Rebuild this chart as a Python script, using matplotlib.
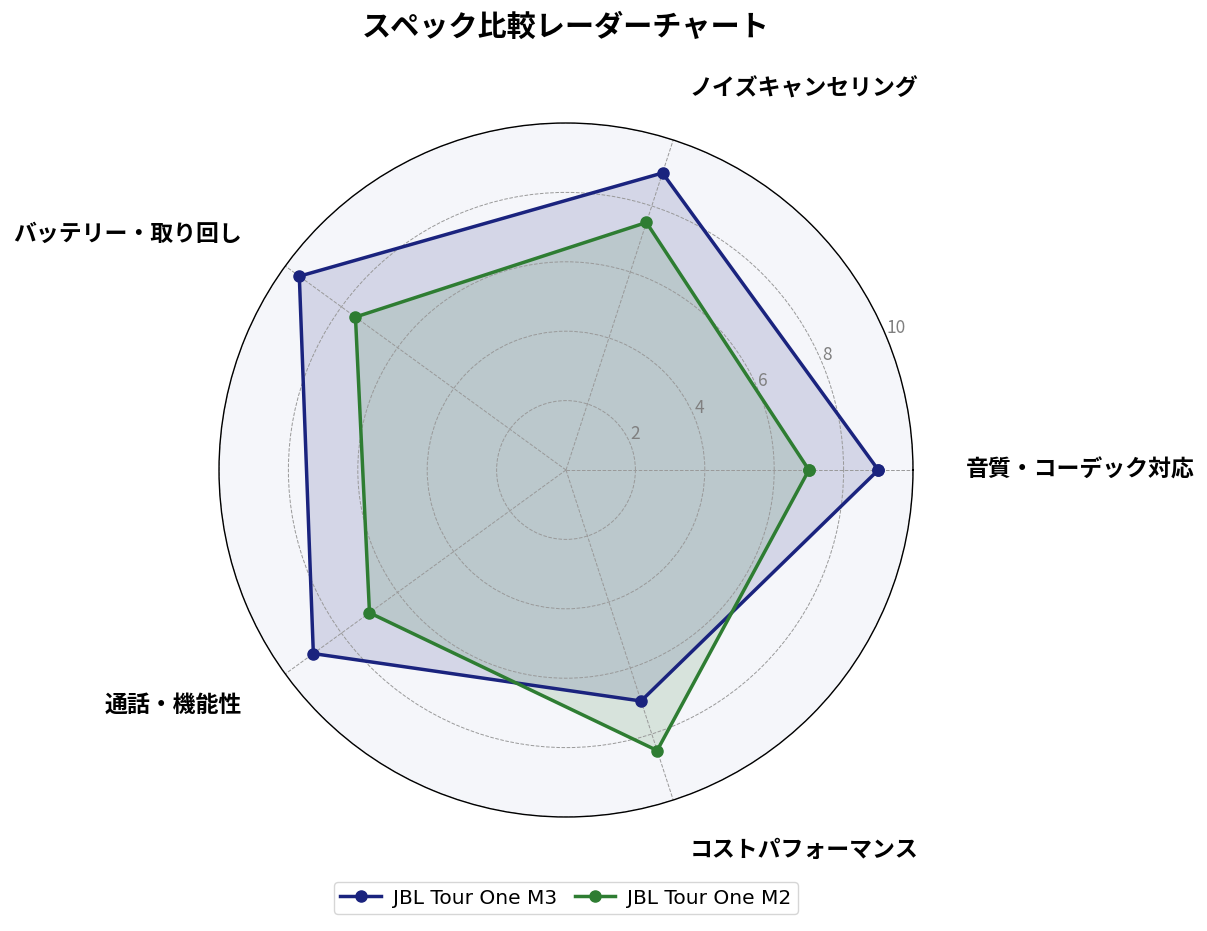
import numpy as np
import matplotlib
matplotlib.use("Agg")
import matplotlib.pyplot as plt

plt.rcParams['font.family'] = ['Noto Sans CJK JP', 'DejaVu Sans']

categories = ["音質・コーデック対応", "ノイズキャンセリング", "バッテリー・取り回し", "通話・機能性", "コストパフォーマンス"]
m3_values = [9.0, 9.0, 9.5, 9.0, 7.0]
m2_values = [7.0, 7.5, 7.5, 7.0, 8.5]
series_names = ["JBL Tour One M3", "JBL Tour One M2"]
r_ticks = [2, 4, 6, 8, 10]
r_tick_labels = ["2", "4", "6", "8", "10"]

colors = ["#1a237e", "#2e7d32"]

n = len(categories)
angles = np.linspace(0, 2 * np.pi, n, endpoint=False)
angles_closed = np.concatenate([angles, angles[:1]])

fig = plt.figure(figsize=(12.07, 9.31), dpi=100)
ax = fig.add_axes([219/1207, 1 - 817/931, 694/1207, 694/931], polar=True)
ax.set_facecolor("#f5f6fa")

for vals, name, c in zip([m3_values, m2_values], series_names, colors):
    v = np.concatenate([vals, vals[:1]])
    ax.plot(angles_closed, v, color=c, linewidth=2.5, marker='o', markersize=8, label=name)
    ax.fill(angles_closed, v, color=c, alpha=0.15)

ax.set_ylim(0, 10)
ax.set_yticks(r_ticks)
ax.set_yticklabels(r_tick_labels, color="#808080", fontsize=12.5)
ax.set_rlabel_position(22.5)
ax.set_xticks(angles)
ax.set_xticklabels([])
ax.grid(True, color="#999999", linestyle="--", linewidth=0.7)
ax.spines['polar'].set_color('black')
ax.spines['polar'].set_linewidth(1.0)

for ang, lab in zip(angles, categories):
    c = np.cos(ang)
    ha = 'left' if c > 0.01 else ('right' if c < -0.01 else 'center')
    ax.text(ang, 11.53, lab, ha=ha, va='center', fontsize=16.5, fontweight='bold', clip_on=False)

fig.text(566/1207, 1 - 27/931, "スペック比較レーダーチャート", ha='center', va='center',
         fontsize=21, fontweight='bold')

fig.legend(loc='center', bbox_to_anchor=(566/1207, 1 - 898/931), ncol=2,
           prop={'family': 'DejaVu Sans', 'size': 14.5},
           frameon=True, edgecolor="#cccccc", fancybox=True, handlelength=2.0,
           columnspacing=0.9, borderpad=0.3, handletextpad=0.6)

fig.savefig("out.png", dpi=100)
